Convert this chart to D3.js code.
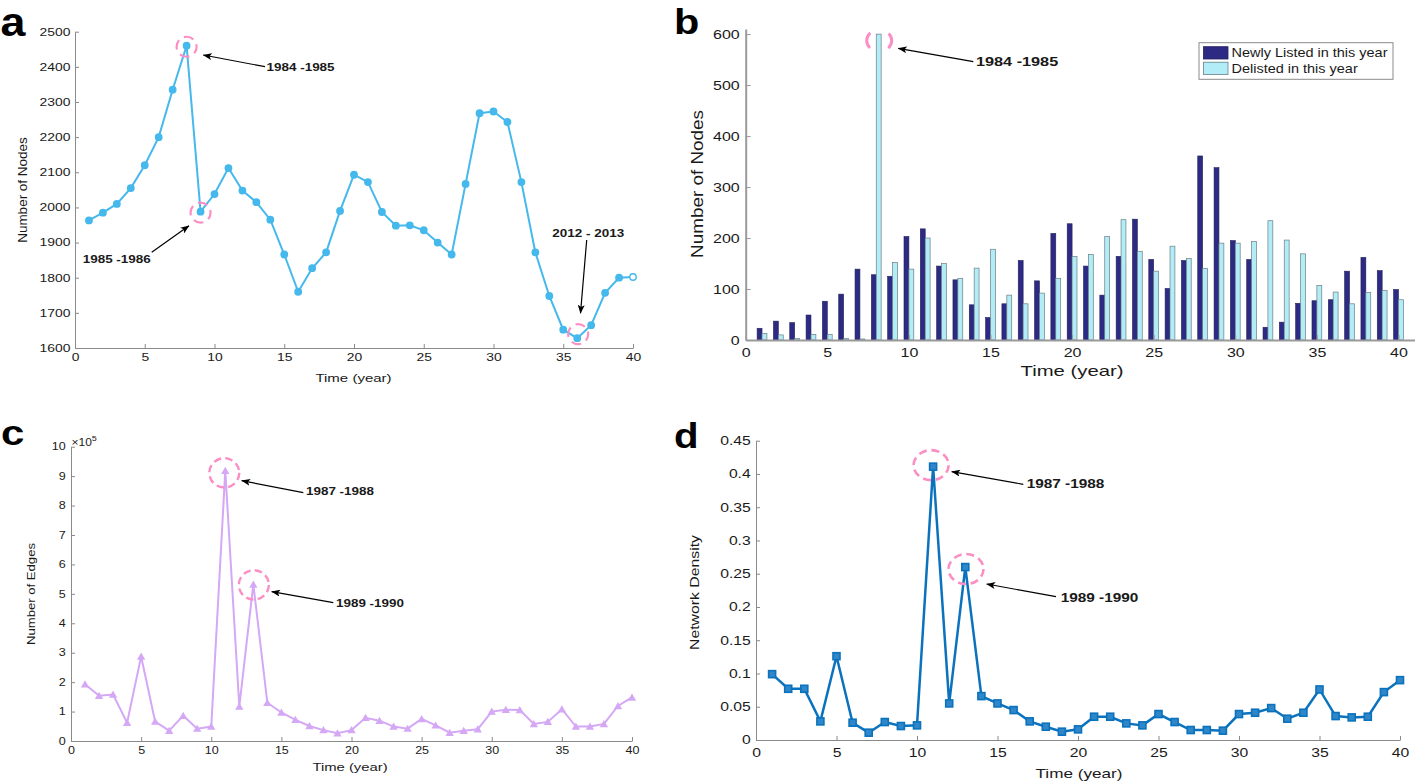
<!DOCTYPE html>
<html><head><meta charset="utf-8">
<script src="https://cdn.jsdelivr.net/npm/d3@7"></script>
<style>
body{margin:0;background:#fff}
svg{display:block}
text{font-family:"Liberation Sans",Arial,Helvetica,sans-serif;fill:#1a1a1a}
</style></head>
<body>
<svg id="fig" width="1415" height="783"></svg>
<script>
// ---------------- data ----------------
const years = [1,2,3,4,5,6,7,8,9,10,11,12,13,14,15,16,17,18,19,20,21,22,23,24,25,26,27,28,29,30,31,32,33,34,35,36,37,38,39,40];
const nodeCounts = [1963,1985,2010,2055,2120,2200,2335,2460,1988,2038,2112,2048,2015,1965,1866,1760,1827,1872,1990,2093,2072,1987,1948,1949,1935,1900,1866,2067,2268,2273,2243,2072,1872,1748,1652,1628,1665,1757,1800,1802];
const newlyListed = [23,37,34,49,76,90,139,128,125,203,218,145,118,69,44,71,156,116,209,228,145,88,164,237,158,101,156,361,338,195,158,25,35,72,77,79,135,162,136,99];
const delisted = [13,10,3,11,11,3,2,600,152,139,200,150,121,141,178,88,71,92,121,164,168,203,236,174,135,184,160,140,190,190,193,234,196,169,107,94,71,93,97,79];
const edgeCounts = [1.93,1.54,1.58,0.62,2.87,0.66,0.35,0.86,0.42,0.49,9.18,1.17,5.32,1.30,0.97,0.72,0.51,0.37,0.26,0.37,0.79,0.69,0.49,0.42,0.75,0.53,0.28,0.35,0.40,1.00,1.06,1.05,0.58,0.65,1.08,0.49,0.49,0.58,1.19,1.48]; // x 10^5
const networkDensity = [0.099,0.077,0.077,0.028,0.126,0.026,0.011,0.027,0.021,0.022,0.411,0.055,0.260,0.066,0.055,0.045,0.028,0.020,0.0125,0.016,0.035,0.035,0.025,0.022,0.039,0.027,0.015,0.015,0.014,0.039,0.041,0.048,0.032,0.041,0.076,0.036,0.034,0.035,0.072,0.090];

const xTickValues = [0,5,10,15,20,25,30,35,40];
const nodeTicks = [1600,1700,1800,1900,2000,2100,2200,2300,2400,2500];
const barTicks = [0,100,200,300,400,500,600];
const edgeTicks = [0,1,2,3,4,5,6,7,8,9,10];
const densityTicks = [0,0.05,0.1,0.15,0.2,0.25,0.3,0.35,0.4,0.45];
const densityTickLabels = ["0","0.05","0.1","0.15","0.2","0.25","0.3","0.35","0.4","0.45"];
const legendLabels = ["Newly Listed in this year","Delisted in this year"];
const xTitle = "Time (year)";

// ---------------- helpers ----------------
const svg = d3.select("#fig");
const PINK = "#fb8fc4";
svg.append("defs").append("marker")
  .attr("id","arr").attr("markerUnits","userSpaceOnUse")
  .attr("markerWidth",9).attr("markerHeight",7).attr("refX",8.5).attr("refY",3.5)
  .attr("orient","auto")
  .append("path").attr("d","M0,0 L9,3.5 L0,7 L2.2,3.5 Z").attr("fill","#000");

function txt(g, x, y, s, o) {
  o = o || {};
  const sx = o.sx || 1;
  const rot = o.rot ? ` rotate(${o.rot})` : "";
  return g.append("text")
    .attr("transform", `translate(${x},${y})${rot} scale(${sx},1)`)
    .attr("text-anchor", o.anchor || "start")
    .attr("font-size", o.size || 12)
    .attr("font-weight", o.bold ? "bold" : "normal")
    .text(s);
}

function axes(p) {
  const xa = svg.append("g").attr("transform", `translate(0,${p.y.range()[0]})`)
    .call(d3.axisBottom(p.x).tickValues(xTickValues).tickFormat(d3.format("d"))
      .tickSizeInner(-p.tick).tickSizeOuter(0).tickPadding(p.xPad));
  const ya = svg.append("g").attr("transform", `translate(${p.x.range()[0]},0)`)
    .call(d3.axisLeft(p.y).tickValues(p.yTicks).tickFormat(p.yFmt)
      .tickSizeInner(-p.tick).tickSizeOuter(0).tickPadding(p.yPad));
  [xa, ya].forEach(a => {
    a.select(".domain").attr("stroke", p.axisColor).attr("stroke-width", p.axisW);
    a.selectAll(".tick line").attr("stroke", p.axisColor).attr("stroke-width", 1);
    a.selectAll("text").attr("font-size", p.fs).attr("fill", "#1a1a1a")
      .attr("font-family", '"Liberation Sans",Arial,sans-serif')
      .each(function () {
        const t = d3.select(this);
        const x = +t.attr("x") || 0;
        t.attr("x", x / p.sx).attr("transform", `scale(${p.sx},1)`);
      });
  });
}

function annotate(list, fs, sx) {
  list.forEach(a => {
    if (a.circle) {
      const c = a.circle;
      svg.append("ellipse").attr("cx", c.cx).attr("cy", c.cy).attr("rx", c.rx).attr("ry", c.ry)
        .attr("fill", "none").attr("stroke", PINK).attr("stroke-width", c.w)
        .attr("stroke-dasharray", c.dash).attr("stroke-dashoffset", c.off || 0);
    }
    if (a.from) {
      svg.append("line").attr("x1", a.from[0]).attr("y1", a.from[1])
        .attr("x2", a.to[0]).attr("y2", a.to[1])
        .attr("stroke", "#000").attr("stroke-width", 1.2).attr("marker-end", "url(#arr)");
    }
    if (a.text) txt(svg, a.tx, a.ty, a.text, {size: fs, sx: sx, bold: true});
  });
}

// ---------------- panel a ----------------
{
  const x = d3.scaleLinear().domain([0, 40]).range([75, 633]);
  const y = d3.scaleLinear().domain([1600, 2500]).range([348, 31.7]);
  axes({x, y, yTicks: nodeTicks, yFmt: d3.format("d"), tick: 4, xPad: 6, yPad: 4.6,
        fs: 10.3, sx: 1.35, axisColor: "#8a8a8a", axisW: 1});
  const col = "#45b8ec";
  svg.append("path").datum(nodeCounts)
    .attr("d", d3.line().x((d, i) => x(years[i])).y(d => y(d)))
    .attr("fill", "none").attr("stroke", col).attr("stroke-width", 2);
  svg.append("g").selectAll("circle").data(nodeCounts).join("circle")
    .attr("cx", (d, i) => x(years[i])).attr("cy", d => y(d)).attr("r", 3.2)
    .attr("fill", (d, i) => i === nodeCounts.length - 1 ? "#fff" : col)
    .attr("stroke", col).attr("stroke-width", 1.4);
  const p = i => [x(years[i - 1]), y(nodeCounts[i - 1])];
  annotate([
    {circle: {cx: p(8)[0], cy: p(8)[1] + 1, rx: 10, ry: 10, w: 2.2, dash: "10,5.7", off: 3},
     text: "1984 -1985", tx: 266.5, ty: 70.7, from: [265, 66.7], to: [203.3, 55]},
    {circle: {cx: p(9)[0], cy: p(9)[1] + 1, rx: 10, ry: 10, w: 2.2, dash: "10,5.7", off: 3},
     text: "1985 -1986", tx: 82.7, ty: 262.7, from: [151.7, 252.3], to: [189, 225.7]},
    {circle: {cx: p(36)[0] + 1, cy: p(36)[1] - 4, rx: 10, ry: 10, w: 2.2, dash: "10,5.7", off: 3},
     text: "2012 - 2013", tx: 552.3, ty: 236.7, from: [586.7, 240], to: [580.5, 313.3]}
  ], 10.2, 1.32);
  txt(svg, 353.5, 382, xTitle, {size: 11.3, sx: 1.33, anchor: "middle"});
  txt(svg, 27, 190, "Number of Nodes", {size: 12.5, sx: 1.08, anchor: "middle", rot: -90});
  txt(svg, 0.5, 36, "a", {size: 40, sx: 1.12, bold: true}).style("fill", "#000");
}

// ---------------- panel b ----------------
{
  const x = d3.scaleLinear().domain([0, 41]).range([745.7, 1414.8]);
  const y = d3.scaleLinear().domain([0, 610]).range([340, 29]);
  const bw = x(0.3) - x(0);
  const dark = "#2d2a84", light = "#b2ecf7";
  svg.append("g").selectAll("rect").data(newlyListed).join("rect")
    .attr("x", (d, i) => x(years[i] - 0.3)).attr("width", bw)
    .attr("y", d => y(d)).attr("height", d => y(0) - y(d))
    .attr("fill", dark).attr("stroke", "#22205a").attr("stroke-width", 0.6);
  svg.append("g").selectAll("rect").data(delisted).join("rect")
    .attr("x", (d, i) => x(years[i])).attr("width", bw)
    .attr("y", d => y(d)).attr("height", d => y(0) - y(d))
    .attr("fill", light).attr("stroke", "#6a7f85").attr("stroke-width", 0.7);
  axes({x, y, yTicks: barTicks, yFmt: d3.format("d"), tick: 5, xPad: 8, yPad: 6,
        fs: 12.5, sx: 1.28, axisColor: "#9a9a9a", axisW: 2});
  // legend
  const lg = svg.append("g");
  lg.append("rect").attr("x", 1199).attr("y", 42.7).attr("width", 194).attr("height", 36.6)
    .attr("fill", "#fff").attr("stroke", "#8a8a8a").attr("stroke-width", 1);
  [dark, light].forEach((c, i) => {
    lg.append("rect").attr("x", 1203.5).attr("y", 46.7 + i * 15.5).attr("width", 24.5).attr("height", 12.3)
      .attr("fill", c).attr("stroke", i ? "#6a7f85" : "#22205a").attr("stroke-width", 0.8);
    txt(lg, 1231.5, 56.8 + i * 15.8, legendLabels[i], {size: 13.4, sx: 1.08});
  });
  const top8 = [x(years[7] + 0.15), y(delisted[7])];
  annotate([
    {circle: {cx: top8[0] + 0.5, cy: top8[1] + 6.5, rx: 12.5, ry: 11, w: 3, dash: "17,20", off: 8.5},
     text: "1984 -1985", tx: 976, ty: 66.3, from: [973.3, 61.7], to: [898.3, 48.3]}
  ], 13, 1.25);
  txt(svg, 1072, 376, xTitle, {size: 14.5, sx: 1.4, anchor: "middle"});
  txt(svg, 703, 184, "Number of Nodes", {size: 16, sx: 1.18, anchor: "middle", rot: -90});
  txt(svg, 674, 34, "b", {size: 36, sx: 1.15, bold: true}).style("fill", "#000");
}

// ---------------- panel c ----------------
{
  const x = d3.scaleLinear().domain([0, 40]).range([71, 632]);
  const y = d3.scaleLinear().domain([0, 10]).range([741, 446.7]);
  axes({x, y, yTicks: edgeTicks, yFmt: d3.format("d"), tick: 4, xPad: 5.5, yPad: 5.3,
        fs: 10.2, sx: 1.23, axisColor: "#8a8a8a", axisW: 1});
  const col = "#d5a8f6";
  svg.append("path").datum(edgeCounts)
    .attr("d", d3.line().x((d, i) => x(years[i])).y(d => y(d)))
    .attr("fill", "none").attr("stroke", col).attr("stroke-width", 2);
  svg.append("g").selectAll("path").data(edgeCounts).join("path")
    .attr("transform", (d, i) => `translate(${x(years[i])},${y(d) + 0.8})`)
    .attr("d", d3.symbol(d3.symbolTriangle, 30)).attr("fill", col);
  const e = svg.append("text").attr("transform", "translate(71.5,445.5) scale(1.2,1)").attr("font-size", 10);
  e.append("tspan").text("×10");
  e.append("tspan").attr("font-size", 7.5).attr("dy", -5).text("5");
  const p = i => [x(years[i - 1]), y(edgeCounts[i - 1])];
  annotate([
    {circle: {cx: p(11)[0] - 1, cy: p(11)[1] + 2, rx: 15, ry: 14.7, w: 2.4, dash: "7.5,4.25"},
     text: "1987 -1988", tx: 306, ty: 495, from: [303.3, 492.7], to: [241.7, 480.7]},
    {circle: {cx: p(13)[0] + 0.5, cy: p(13)[1] + 0.5, rx: 15, ry: 14.7, w: 2.4, dash: "7.5,4.25"},
     text: "1989 -1990", tx: 336, ty: 606.7, from: [333.3, 602.7], to: [271.7, 591.7]}
  ], 10.5, 1.28);
  txt(svg, 350, 771, xTitle, {size: 11, sx: 1.35, anchor: "middle"});
  txt(svg, 35, 594, "Number of Edges", {size: 11.5, sx: 1.14, anchor: "middle", rot: -90});
  txt(svg, 1, 445, "c", {size: 35, sx: 1.2, bold: true}).style("fill", "#000");
}

// ---------------- panel d ----------------
{
  const x = d3.scaleLinear().domain([0, 40]).range([756, 1400]);
  const y = d3.scaleLinear().domain([0, 0.45]).range([740, 440.7]);
  axes({x, y, yTicks: densityTicks, yFmt: (d, i) => densityTickLabels[i], tick: 4, xPad: 8, yPad: 5.3,
        fs: 12, sx: 1.31, axisColor: "#8a8a8a", axisW: 1});
  const col = "#0b72bd";
  svg.append("path").datum(networkDensity)
    .attr("d", d3.line().x((d, i) => x(years[i])).y(d => y(d)))
    .attr("fill", "none").attr("stroke", col).attr("stroke-width", 2.5);
  svg.append("g").selectAll("rect").data(networkDensity).join("rect")
    .attr("x", (d, i) => x(years[i]) - 3.5).attr("y", d => y(d) - 3.5)
    .attr("width", 7).attr("height", 7)
    .attr("fill", "#2f86c8").attr("stroke", col).attr("stroke-width", 1.6);
  const p = i => [x(years[i - 1]), y(networkDensity[i - 1])];
  annotate([
    {circle: {cx: p(11)[0] - 2, cy: p(11)[1] - 1.5, rx: 17.5, ry: 15, w: 2.6, dash: "8,4.75"},
     text: "1987 -1988", tx: 1026.7, ty: 488, from: [1023.3, 484.3], to: [951.7, 471.7]},
    {circle: {cx: p(13)[0] + 0.7, cy: p(13)[1] + 2, rx: 17.5, ry: 15, w: 2.6, dash: "8,4.75"},
     text: "1989 -1990", tx: 1060.7, ty: 601.5, from: [1056, 596.7], to: [986.7, 584]}
  ], 12, 1.28);
  txt(svg, 1079, 778, xTitle, {size: 13, sx: 1.32, anchor: "middle"});
  txt(svg, 699, 592.5, "Network Density", {size: 13.5, sx: 1.17, anchor: "middle", rot: -90});
  txt(svg, 674, 448, "d", {size: 35, sx: 1.15, bold: true}).style("fill", "#000");
}
</script>
</body></html>
